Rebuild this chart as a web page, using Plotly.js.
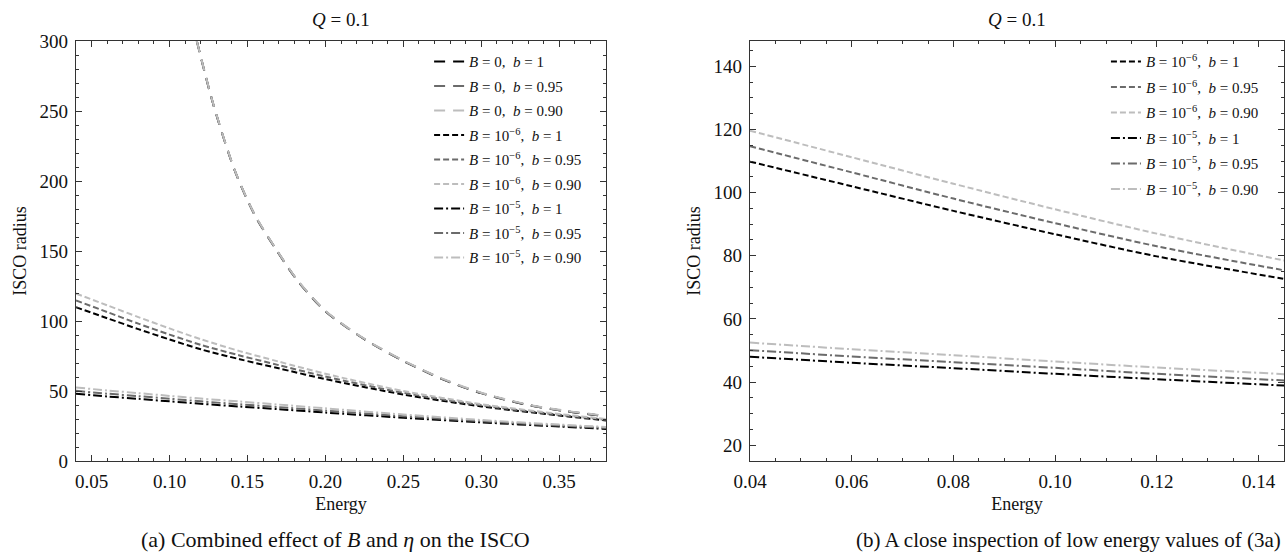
<!DOCTYPE html>
<html>
<head>
<meta charset="utf-8">
<script src="https://cdn.plot.ly/plotly-3.0.1.min.js"></script>
<style>
  html, body { margin: 0; padding: 0; background: #ffffff; }
  #chart { width: 1286px; height: 559px; }
</style>
</head>
<body>
<div id="chart"></div>
<script>
// ---------- data ----------
// B = 0 curves (left panel only)
const energyB0 = [0.1175, 0.128, 0.142, 0.155, 0.169, 0.182, 0.20, 0.225, 0.25, 0.275, 0.30, 0.33, 0.355, 0.38];
const iscoB0_b100 = [300, 255, 207, 175, 150, 129, 107, 87, 71.5, 58.5, 48.5, 40.0, 35.5, 32.0];
const iscoB0_b095 = [300, 255, 207, 175, 150, 129, 107, 87, 71.5, 58.5, 48.5, 40.0, 35.5, 32.0];
const iscoB0_b090 = [300, 255.3, 207.3, 175.3, 150.3, 129.3, 107.3, 87.3, 71.8, 58.8, 48.8, 40.3, 35.8, 32.3];

// B = 1e-6 and B = 1e-5 curves (both panels)
const energyB = [0.04, 0.06, 0.08, 0.10, 0.12, 0.145, 0.17, 0.20, 0.25, 0.30, 0.35, 0.38];
const iscoB6_b100 = [109.8, 102.0, 94.2, 86.8, 79.8, 72.7, 66.2, 58.5, 47.5, 39.0, 32.5, 29.0];
const iscoB6_b095 = [114.7, 106.4, 98.1, 90.3, 83.0, 75.4, 68.5, 60.3, 48.7, 39.8, 33.0, 29.5];
const iscoB6_b090 = [119.6, 111.2, 102.8, 94.7, 87.0, 78.5, 71.0, 62.3, 50.0, 40.6, 33.6, 30.0];
const iscoB5_b100 = [48.0, 46.1, 44.4, 42.6, 40.9, 38.9, 37.0, 34.6, 30.9, 27.6, 24.6, 22.9];
const iscoB5_b095 = [50.1, 48.1, 46.3, 44.5, 42.6, 40.5, 38.5, 36.0, 32.0, 28.4, 25.3, 23.6];
const iscoB5_b090 = [52.5, 50.4, 48.5, 46.5, 44.6, 42.5, 40.3, 37.6, 33.2, 29.3, 26.0, 24.3];

const seriesNames = {
  b0_100: '<i>B</i> = 0,  <i>b</i> = 1',
  b0_095: '<i>B</i> = 0,  <i>b</i> = 0.95',
  b0_090: '<i>B</i> = 0,  <i>b</i> = 0.90',
  b6_100: '<i>B</i> = 10<sup>\u22126</sup>,  <i>b</i> = 1',
  b6_095: '<i>B</i> = 10<sup>\u22126</sup>,  <i>b</i> = 0.95',
  b6_090: '<i>B</i> = 10<sup>\u22126</sup>,  <i>b</i> = 0.90',
  b5_100: '<i>B</i> = 10<sup>\u22125</sup>,  <i>b</i> = 1',
  b5_095: '<i>B</i> = 10<sup>\u22125</sup>,  <i>b</i> = 0.95',
  b5_090: '<i>B</i> = 10<sup>\u22125</sup>,  <i>b</i> = 0.90'
};

// ---------- styling ----------
const C_BLACK = '#000000', C_GRAY = '#6b6b6b', C_LIGHT = '#bdbdbd';
const DASH_LONG = '11px,8px';
const DASH_SHORT = '6px,3px';
const DASH_DOT = '9px,3px,2px,3px';
const FONT = 'Liberation Serif';

function tr(x, y, name, color, dash, panel, gid) {
  const right = panel === 2;
  return {
    type: 'scatter', mode: 'lines', x: x, y: y, name: name,
    line: { color: color, dash: dash, width: 2, shape: 'spline', smoothing: 0.8 },
    xaxis: right ? 'x2' : 'x', yaxis: right ? 'y2' : 'y',
    legend: right ? 'legend2' : 'legend',
    legendgroup: gid, hoverinfo: 'x+y'
  };
}

const traces = [
  tr(energyB0, iscoB0_b100, seriesNames.b0_100, C_BLACK, DASH_LONG, 1, 'a1'),
  tr(energyB0, iscoB0_b095, seriesNames.b0_095, C_GRAY, DASH_LONG, 1, 'a2'),
  tr(energyB0, iscoB0_b090, seriesNames.b0_090, C_LIGHT, DASH_LONG, 1, 'a3'),
  tr(energyB, iscoB6_b100, seriesNames.b6_100, C_BLACK, DASH_SHORT, 1, 'a4'),
  tr(energyB, iscoB6_b095, seriesNames.b6_095, C_GRAY, DASH_SHORT, 1, 'a5'),
  tr(energyB, iscoB6_b090, seriesNames.b6_090, C_LIGHT, DASH_SHORT, 1, 'a6'),
  tr(energyB, iscoB5_b100, seriesNames.b5_100, C_BLACK, DASH_DOT, 1, 'a7'),
  tr(energyB, iscoB5_b095, seriesNames.b5_095, C_GRAY, DASH_DOT, 1, 'a8'),
  tr(energyB, iscoB5_b090, seriesNames.b5_090, C_LIGHT, DASH_DOT, 1, 'a9'),

  tr(energyB, iscoB6_b100, seriesNames.b6_100, C_BLACK, DASH_SHORT, 2, 'b1'),
  tr(energyB, iscoB6_b095, seriesNames.b6_095, C_GRAY, DASH_SHORT, 2, 'b2'),
  tr(energyB, iscoB6_b090, seriesNames.b6_090, C_LIGHT, DASH_SHORT, 2, 'b3'),
  tr(energyB, iscoB5_b100, seriesNames.b5_100, C_BLACK, DASH_DOT, 2, 'b4'),
  tr(energyB, iscoB5_b095, seriesNames.b5_095, C_GRAY, DASH_DOT, 2, 'b5'),
  tr(energyB, iscoB5_b090, seriesNames.b5_090, C_LIGHT, DASH_DOT, 2, 'b6')
];

const AX_COLOR = '#333333';
function axis(extra) {
  return Object.assign({
    showline: true, linecolor: AX_COLOR, linewidth: 1.3, mirror: 'ticks',
    ticks: 'inside', ticklen: 6, tickwidth: 1, tickcolor: AX_COLOR,
    showgrid: false, zeroline: false, fixedrange: true,
    tickfont: { family: FONT, size: 19, color: '#111' },
    ticklabelstandoff: 3
  }, extra);
}
function minor(dt) {
  return { dtick: dt, ticks: 'inside', ticklen: 3, tickwidth: 1, tickcolor: AX_COLOR, showgrid: false };
}
const titleFont = { family: FONT, size: 18, color: '#111' };

const layout = {
  width: 1286, height: 559,
  margin: { l: 76, r: 2, t: 41, b: 98 },
  paper_bgcolor: '#ffffff', plot_bgcolor: '#ffffff',
  font: { family: FONT, color: '#111' },
  xaxis: axis({ domain: [0, 0.43874], range: [0.04, 0.38], tick0: 0, dtick: 0.05, tickformat: '.2f',
                minor: minor(0.01), anchor: 'y',
                title: { text: 'Energy', font: titleFont, standoff: 6 } }),
  yaxis: axis({ domain: [0, 1], range: [0, 300], tick0: 0, dtick: 50, minor: minor(10), anchor: 'x',
                title: { text: 'ISCO radius', font: titleFont, standoff: 8 } }),
  xaxis2: axis({ domain: [0.55795, 1], range: [0.04, 0.145], tick0: 0, dtick: 0.02, tickformat: '.2f',
                 minor: minor(0.005), anchor: 'y2',
                 title: { text: 'Energy', font: titleFont, standoff: 6 } }),
  yaxis2: axis({ domain: [0, 1], range: [15, 148], tick0: 0, dtick: 20, minor: minor(5), anchor: 'x2',
                 title: { text: 'ISCO radius', font: titleFont, standoff: 8 } }),
  legend: { x: 0.2923, y: 0.99, xanchor: 'left', yanchor: 'top', bgcolor: 'rgba(0,0,0,0)',
            font: { family: FONT, size: 15, color: '#111' }, tracegroupgap: 2, itemclick: false, itemdoubleclick: false },
  legend2: { x: 0.8526, y: 0.99, xanchor: 'left', yanchor: 'top', bgcolor: 'rgba(0,0,0,0)',
             font: { family: FONT, size: 15, color: '#111' }, tracegroupgap: 3, itemclick: false, itemdoubleclick: false },
  showlegend: true,
  annotations: [
    { text: '<i>Q</i> = 0.1', xref: 'paper', yref: 'paper', x: 0.21937, y: 1.05, xanchor: 'center', yanchor: 'middle',
      showarrow: false, font: { family: FONT, size: 19, color: '#111' } },
    { text: '<i>Q</i> = 0.1', xref: 'paper', yref: 'paper', x: 0.77897, y: 1.05, xanchor: 'center', yanchor: 'middle',
      showarrow: false, font: { family: FONT, size: 19, color: '#111' } },
    { text: '(a) Combined effect of <i>B</i> and <i>\u03b7</i> on the ISCO', xref: 'paper', yref: 'paper',
      x: 0.2152, y: -0.188, xanchor: 'center', yanchor: 'middle', showarrow: false,
      font: { family: FONT, size: 22, color: '#111' } },
    { text: '(b) A close inspection of low energy values of (3a)', xref: 'paper', yref: 'paper',
      x: 0.8218, y: -0.188, xanchor: 'center', yanchor: 'middle', showarrow: false,
      font: { family: FONT, size: 21, color: '#111' } }
  ]
};

Plotly.newPlot('chart', traces, layout, { displayModeBar: false, staticPlot: false, responsive: false });
</script>
</body>
</html>
